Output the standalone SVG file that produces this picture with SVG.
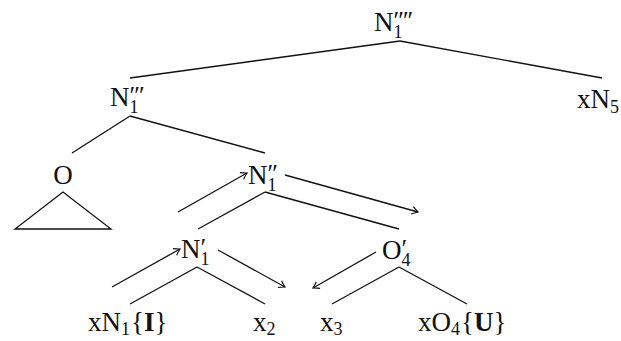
<svg xmlns="http://www.w3.org/2000/svg" width="621" height="341" viewBox="0 0 621 341">
<style>
text{font-family:"Liberation Serif","DejaVu Serif",serif;fill:#111;}
.m{font-size:27px;}
.s{font-size:18px;}
.p{font-size:26px;font-family:"Liberation Serif","DejaVu Serif",serif;letter-spacing:-1px;}
.b{font-weight:bold;}
line,polygon{stroke:#111;stroke-width:1.3;fill:none;}
.a{marker-end:url(#ah);}
</style>
<defs>
<marker id="ah" markerUnits="userSpaceOnUse" markerWidth="12" markerHeight="12" viewBox="-8 -6 10 12" refX="0" refY="0" orient="auto">
<path d="M-6,-3.8 Q-2,-1 0,0 Q-2,1 -6,3.8" fill="none" stroke="#111" stroke-width="1.2"/>
</marker>
</defs>
<rect width="621" height="341" fill="#fff"/>
<g id="connectors">
<line x1="400" y1="41" x2="130" y2="78"/>
<line x1="400" y1="41" x2="602" y2="78"/>
<line x1="130" y1="116" x2="72" y2="153"/>
<line x1="130" y1="116" x2="265" y2="153"/>
<line x1="265" y1="192" x2="198" y2="229"/>
<line x1="265" y1="192" x2="399" y2="229"/>
<line x1="197" y1="267" x2="130" y2="304"/>
<line x1="197" y1="267" x2="265" y2="304"/>
<line x1="399" y1="267" x2="332" y2="304"/>
<line x1="399" y1="267" x2="467" y2="304"/>
<line class="a" x1="178" y1="212" x2="247" y2="173"/>
<line class="a" x1="285" y1="175" x2="418" y2="212"/>
<line class="a" x1="112" y1="287" x2="180" y2="249"/>
<line class="a" x1="218" y1="250" x2="285" y2="287"/>
<line class="a" x1="376" y1="252" x2="313" y2="288"/>
</g>
<g id="n1_4">
<text class="m" x="374" y="31">N<tspan class="s" dy="7">1</tspan><tspan class="p" dx="-9" dy="-9">′′′′</tspan></text>
</g>
<g id="n1_3">
<text class="m" x="110" y="106">N<tspan class="s" dy="7">1</tspan><tspan class="p" dx="-9" dy="-9">′′′</tspan></text>
</g>
<g id="xn5">
<text class="m" x="577" y="108">xN<tspan class="s" dy="5">5</tspan></text>
</g>
<g id="o">
<text class="m" x="63" y="184" text-anchor="middle">O</text>
<polygon points="63,192 15,229 111,229"/>
</g>
<g id="n1_2">
<text class="m" x="248" y="184">N<tspan class="s" dy="7">1</tspan><tspan class="p" dx="-9" dy="-9">′′</tspan></text>
</g>
<g id="n1_1">
<text class="m" x="181" y="258">N<tspan class="s" dy="7">1</tspan><tspan class="p" dx="-9" dy="-9">′</tspan></text>
</g>
<g id="o4_1">
<text class="m" x="382" y="259">O<tspan class="s" dy="7">4</tspan><tspan class="p" dx="-9" dy="-9">′</tspan></text>
</g>
<g id="xn1">
<text class="m" x="88" y="331">xN<tspan class="s" dy="4">1</tspan><tspan dy="-4" dx="1">{</tspan><tspan class="b">I</tspan>}</text>
</g>
<g id="x2">
<text class="m" x="253" y="331">x<tspan class="s" dy="4">2</tspan></text>
</g>
<g id="x3">
<text class="m" x="320" y="331">x<tspan class="s" dy="4">3</tspan></text>
</g>
<g id="xo4">
<text class="m" x="418" y="331">xO<tspan class="s" dy="4">4</tspan><tspan dy="-4" dx="1">{</tspan><tspan class="b">U</tspan>}</text>
</g>
</svg>
